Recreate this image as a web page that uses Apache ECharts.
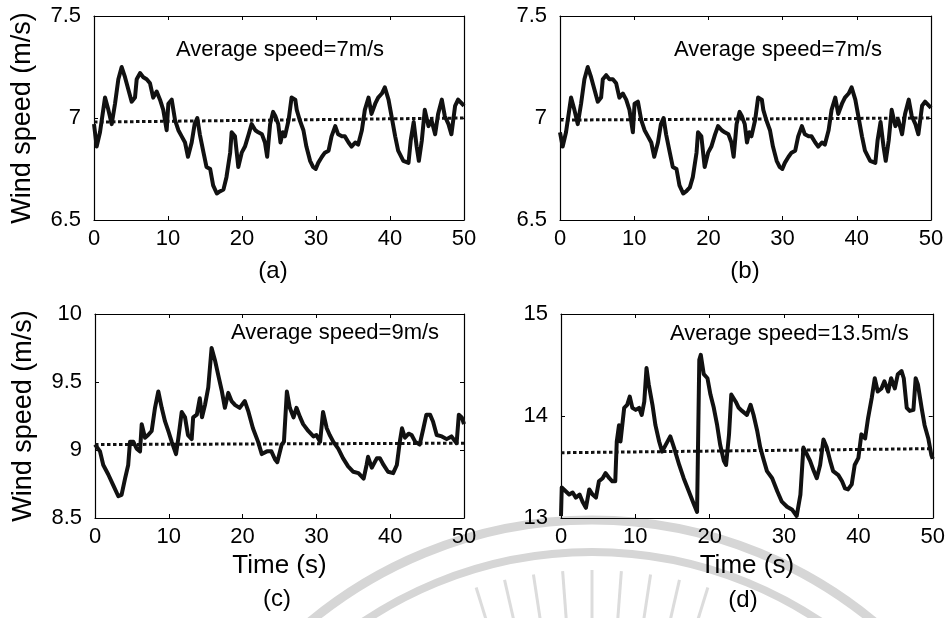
<!DOCTYPE html>
<html>
<head>
<meta charset="utf-8">
<script src="https://cdn.jsdelivr.net/npm/echarts@6/dist/echarts.min.js"></script>
<style>
  html, body { margin: 0; background: #fff; }
  #chart { width: 948px; height: 618px; }
</style>
</head>
<body>
<div id="chart"></div>
<script>
// wind speed records, [time (s), speed (m/s)]
const windA = [[0,6.97],[0.36,6.86],[0.81,6.93],[1.49,7.10],[1.94,7.04],[2.39,6.97],[2.84,7.07],[3.29,7.19],[3.74,7.25],[4.19,7.20],[4.64,7.14],[5.09,7.08],[5.54,7.10],[5.77,7.19],[6.22,7.22],[6.66,7.20],[7.12,7.19],[7.57,7.17],[8.0,7.10],[8.47,7.13],[8.92,7.09],[9.36,7.04],[9.82,6.94],[10.05,7.07],[10.5,7.09],[10.95,6.99],[11.4,6.94],[11.85,6.91],[12.3,6.88],[12.7,6.81],[13.2,6.88],[13.6,6.97],[13.96,7.00],[14.3,6.92],[14.8,6.83],[15.2,6.76],[15.7,6.75],[16.1,6.67],[16.6,6.63],[17.0,6.64],[17.5,6.65],[17.9,6.71],[18.4,6.83],[18.6,6.93],[19.05,6.91],[19.5,6.76],[19.96,6.83],[20.4,6.86],[20.9,6.92],[21.3,6.97],[21.8,6.94],[22.2,6.93],[22.7,6.92],[23.1,6.88],[23.4,6.81],[23.8,6.97],[24.2,7.03],[24.5,7.01],[24.9,6.97],[25.2,6.88],[25.5,6.93],[25.8,6.91],[26.3,6.99],[26.7,7.10],[27.2,7.09],[27.4,7.04],[27.8,6.99],[28.3,6.94],[28.7,6.86],[29.2,6.79],[29.6,6.76],[29.96,6.75],[30.3,6.78],[30.8,6.81],[31.2,6.83],[31.7,6.84],[32.1,6.91],[32.6,6.96],[33.0,6.92],[33.5,6.91],[33.9,6.91],[34.4,6.88],[34.8,6.86],[35.3,6.88],[35.7,6.87],[36.2,6.94],[36.6,7.04],[37.1,7.10],[37.5,7.02],[38.0,7.07],[38.4,7.10],[38.9,7.12],[39.3,7.15],[39.8,7.09],[40.2,7.01],[40.7,6.91],[41.1,6.84],[41.8,6.79],[42.5,6.78],[42.8,6.89],[43.2,6.98],[43.6,6.86],[43.9,6.79],[44.3,6.89],[44.7,7.04],[45.2,6.96],[45.6,6.99],[46.1,6.92],[46.5,7.02],[47.0,7.09],[47.4,7.01],[47.9,6.97],[48.3,6.92],[48.8,7.06],[49.2,7.09],[50,7.06]];

const windB = [[0,6.93],[0.36,6.86],[0.81,6.93],[1.49,7.10],[1.94,7.04],[2.39,6.97],[2.84,7.07],[3.29,7.19],[3.74,7.25],[4.19,7.20],[4.64,7.14],[5.09,7.08],[5.54,7.10],[5.77,7.19],[6.22,7.21],[6.66,7.19],[7.12,7.19],[7.57,7.17],[8.0,7.10],[8.47,7.12],[8.92,7.09],[9.36,7.04],[9.82,6.93],[10.05,7.07],[10.5,7.08],[10.95,6.99],[11.4,6.94],[11.85,6.91],[12.3,6.88],[12.7,6.81],[13.2,6.88],[13.6,6.97],[13.96,7.00],[14.3,6.92],[14.8,6.83],[15.2,6.76],[15.7,6.75],[16.1,6.67],[16.6,6.63],[17.0,6.64],[17.5,6.66],[17.9,6.71],[18.4,6.83],[18.6,6.93],[19.05,6.91],[19.5,6.76],[19.96,6.83],[20.4,6.86],[20.9,6.92],[21.3,6.96],[21.8,6.94],[22.2,6.93],[22.7,6.92],[23.1,6.88],[23.4,6.81],[23.8,6.97],[24.2,7.03],[24.5,7.01],[24.9,6.97],[25.2,6.88],[25.5,6.93],[25.8,6.91],[26.3,6.99],[26.7,7.10],[27.2,7.09],[27.4,7.04],[27.8,6.99],[28.3,6.94],[28.7,6.86],[29.2,6.79],[29.6,6.76],[29.96,6.75],[30.3,6.78],[30.8,6.81],[31.2,6.83],[31.7,6.84],[32.1,6.91],[32.6,6.96],[33.0,6.92],[33.5,6.91],[33.9,6.91],[34.4,6.88],[34.8,6.86],[35.3,6.88],[35.7,6.87],[36.2,6.94],[36.6,7.04],[37.1,7.10],[37.5,7.02],[38.0,7.07],[38.4,7.10],[38.9,7.12],[39.3,7.15],[39.8,7.09],[40.2,7.01],[40.7,6.91],[41.1,6.84],[41.8,6.79],[42.5,6.78],[42.8,6.89],[43.2,6.98],[43.6,6.86],[43.9,6.79],[44.3,6.89],[44.7,7.04],[45.2,6.96],[45.6,6.99],[46.1,6.92],[46.5,7.02],[47.0,7.09],[47.4,7.01],[47.9,6.97],[48.3,6.92],[48.8,7.06],[49.2,7.08],[50,7.05]];

const windC = [[0,9.04],[0.68,8.99],[1.12,8.89],[1.8,8.82],[2.48,8.74],[3.16,8.66],[3.6,8.67],[4.07,8.79],[4.5,8.89],[4.74,9.06],[5.2,9.06],[5.65,9.01],[6.1,8.99],[6.33,9.19],[6.78,9.09],[7.2,9.11],[7.68,9.14],[8.13,9.31],[8.58,9.43],[9.04,9.31],[9.49,9.21],[9.93,9.14],[10.4,9.06],[10.98,8.97],[11.3,9.09],[11.75,9.28],[12.2,9.24],[12.6,9.11],[13.1,9.08],[13.3,9.24],[13.8,9.26],[14.2,9.38],[14.5,9.24],[14.9,9.33],[15.35,9.46],[15.8,9.75],[16.3,9.65],[16.7,9.55],[17.2,9.43],[17.6,9.31],[18.06,9.42],[18.5,9.36],[19.0,9.33],[19.6,9.31],[20.3,9.36],[20.8,9.28],[21.4,9.16],[22.1,9.06],[22.6,8.97],[23.3,8.99],[23.9,8.99],[24.4,8.93],[24.7,8.91],[25.3,9.04],[25.6,9.06],[26.0,9.43],[26.4,9.31],[26.9,9.24],[27.3,9.31],[27.8,9.24],[28.2,9.19],[28.9,9.14],[29.6,9.10],[30.0,9.11],[30.5,9.06],[30.9,9.28],[31.4,9.16],[31.8,9.11],[32.3,9.06],[32.96,9.01],[33.6,8.94],[34.3,8.88],[35.0,8.84],[35.7,8.83],[36.4,8.79],[36.8,8.89],[37.0,8.95],[37.5,8.87],[38.2,8.94],[38.6,8.94],[39.1,8.89],[39.7,8.84],[40.4,8.83],[40.9,8.89],[41.3,9.06],[41.6,9.16],[42.0,9.09],[42.5,9.12],[42.9,9.11],[43.4,9.06],[44.0,9.04],[44.5,9.16],[44.9,9.26],[45.4,9.26],[45.8,9.21],[46.3,9.11],[47.0,9.10],[47.65,9.08],[48.3,9.10],[49.0,9.05],[49.3,9.26],[49.7,9.24],[50,9.19]];

const windD = [[0,13.02],[0.1,13.3],[0.67,13.26],[1.1,13.23],[1.57,13.25],[2.0,13.20],[2.5,13.23],[2.9,13.16],[3.35,13.10],[3.8,13.28],[4.25,13.23],[4.7,13.20],[5.1,13.36],[5.6,13.39],[6.0,13.44],[6.5,13.39],[6.9,13.36],[7.3,13.36],[7.5,13.75],[7.8,13.91],[8.0,13.75],[8.5,14.08],[8.9,14.11],[9.25,14.19],[9.6,14.08],[10.05,14.06],[10.5,14.08],[10.86,14.01],[11.2,14.14],[11.5,14.47],[11.8,14.31],[12.3,14.11],[12.7,13.91],[13.2,13.75],[13.6,13.65],[14.1,13.72],[14.7,13.80],[15.2,13.69],[15.9,13.52],[16.5,13.39],[17.2,13.26],[17.9,13.13],[18.3,13.06],[18.45,13.05],[18.6,14.55],[18.8,14.60],[19.2,14.41],[19.7,14.37],[20.1,14.21],[20.55,14.08],[21.0,13.91],[21.4,13.72],[21.9,13.56],[22.2,13.52],[22.6,13.82],[22.9,14.21],[23.5,14.14],[23.9,14.08],[24.35,14.05],[24.6,14.05],[25.0,14.01],[25.5,14.11],[25.9,14.01],[26.4,13.85],[26.8,13.69],[27.3,13.56],[27.7,13.46],[28.4,13.39],[29.1,13.26],[29.7,13.16],[30.4,13.11],[31.1,13.08],[31.7,13.02],[32.2,13.23],[32.6,13.69],[33.1,13.62],[33.5,13.56],[34.0,13.46],[34.4,13.39],[34.85,13.52],[35.3,13.77],[35.75,13.69],[36.2,13.56],[36.6,13.46],[37.3,13.42],[37.8,13.36],[38.2,13.29],[38.6,13.28],[39.1,13.33],[39.5,13.52],[40.0,13.59],[40.4,13.82],[40.9,13.78],[41.3,13.98],[41.8,14.18],[42.2,14.37],[42.6,14.24],[43.1,14.27],[43.5,14.34],[44.0,14.24],[44.4,14.37],[44.9,14.27],[45.3,14.41],[45.8,14.44],[46.1,14.37],[46.5,14.08],[46.9,14.05],[47.4,14.06],[47.7,14.37],[48.0,14.31],[48.5,14.08],[48.9,13.91],[49.4,13.78],[49.8,13.62],[50,13.58]];

// dotted average lines, value at t=0 and t=50
const avgA = [6.98, 7.0];
const avgB = [6.99, 7.0];
const avgC = [9.04, 9.05];
const avgD = [13.64, 13.68];

const yRanges = [[6.5, 7.5, 0.5], [6.5, 7.5, 0.5], [8.5, 10, 0.5], [13, 15, 1]];
const notes = ["Average speed=7m/s", "Average speed=7m/s", "Average speed=9m/s", "Average speed=13.5m/s"];
const panelLabels = ["(a)", "(b)", "(c)", "(d)"];

const FONT = '"Liberation Sans", Arial, Helvetica, sans-serif';
const chart = echarts.init(document.getElementById("chart"));

const grids = [
  { left: 94, top: 16, width: 370, height: 204 },
  { left: 560, top: 16, width: 371, height: 204 },
  { left: 95, top: 314, width: 369, height: 204 },
  { left: 561, top: 314, width: 373, height: 204 },
];

const tickStyle = { inside: true, length: 4, lineStyle: { color: "#000", width: 1 } };
const lineStyle = { show: true, onZero: false, lineStyle: { color: "#000", width: 1.2 } };

const xAxis = [];
const yAxis = [];
grids.forEach((g, i) => {
  const bottomRow = i >= 2;
  xAxis.push({
    gridIndex: i, type: "value", min: 0, max: 50, interval: 10, position: "bottom",
    axisLine: lineStyle, axisTick: tickStyle, splitLine: { show: false },
    axisLabel: { color: "#000", fontSize: 22, fontFamily: FONT, margin: 8 },
    name: bottomRow ? "Time (s)" : "", nameLocation: "middle", nameGap: 35,
    nameTextStyle: { color: "#000", fontSize: 26, fontFamily: FONT },
  });
  xAxis.push({
    gridIndex: i, type: "value", min: 0, max: 50, interval: 10, position: "top",
    axisLine: lineStyle, axisTick: tickStyle, axisLabel: { show: false }, splitLine: { show: false },
  });
  const [ymin, ymax, step] = yRanges[i];
  yAxis.push({
    gridIndex: i, type: "value", min: ymin, max: ymax, interval: step, position: "left",
    axisLine: lineStyle, axisTick: tickStyle, splitLine: { show: false },
    axisLabel: { color: "#000", fontSize: 22, fontFamily: FONT, margin: 13 },
    name: i % 2 === 0 ? "Wind speed (m/s)" : "", nameLocation: "middle", nameGap: 58,
    nameTextStyle: { color: "#000", fontSize: 27, fontFamily: FONT },
  });
  yAxis.push({
    gridIndex: i, type: "value", min: ymin, max: ymax, interval: step, position: "right",
    axisLine: lineStyle, axisTick: tickStyle, axisLabel: { show: false }, splitLine: { show: false },
  });
});

const records = [windA, windB, windC, windD];
const averages = [avgA, avgB, avgC, avgD];
const series = [];
records.forEach((rec, i) => {
  series.push({
    type: "line", xAxisIndex: 2 * i, yAxisIndex: 2 * i, data: rec,
    showSymbol: false, silent: true, z: 3,
    lineStyle: { color: "#111", width: 4, join: "round" },
  });
  series.push({
    type: "line", xAxisIndex: 2 * i, yAxisIndex: 2 * i,
    data: [[0, averages[i][0]], [50, averages[i][1]]],
    showSymbol: false, silent: true, z: 3,
    lineStyle: { color: "#111", width: 3, type: [3.5, 2.5], cap: "butt" },
  });
});

// faint scanned watermark (top of a round emblem) behind the lower panels
const wmCx = 592, wmCy = 962;
const graphic = [
  { type: "arc", z: -10, silent: true, shape: { cx: wmCx, cy: wmCy, r: 442, startAngle: -Math.PI / 2 - 0.75, endAngle: -Math.PI / 2 + 0.75 },
    style: { stroke: "#d6d6d6", lineWidth: 9, fill: null } },
  { type: "arc", z: -10, silent: true, shape: { cx: wmCx, cy: wmCy, r: 410, startAngle: -Math.PI / 2 - 0.75, endAngle: -Math.PI / 2 + 0.75 },
    style: { stroke: "#d6d6d6", lineWidth: 8, fill: null } },
];
for (let k = -4; k <= 4; k++) {
  const a = -Math.PI / 2 + k * 0.075;
  graphic.push({
    type: "line", z: -10, silent: true,
    shape: { x1: wmCx + 300 * Math.cos(a), y1: wmCy + 300 * Math.sin(a), x2: wmCx + 392 * Math.cos(a), y2: wmCy + 392 * Math.sin(a) },
    style: { stroke: "#dcdcdc", lineWidth: 3 },
  });
}

const notePos = [[176, 50], [674, 50], [231, 333], [670, 334]];
const labelPos = [[273, 271], [745, 271], [277, 599], [743, 600]];
notes.forEach((t, i) => {
  graphic.push({
    type: "text", x: notePos[i][0], y: notePos[i][1], silent: true,
    style: { text: t, fontSize: 22, fontFamily: FONT, fill: "#000", textAlign: "left", textVerticalAlign: "middle" },
  });
  graphic.push({
    type: "text", x: labelPos[i][0], y: labelPos[i][1], silent: true,
    style: { text: panelLabels[i], fontSize: 24, fontFamily: FONT, fill: "#000", textAlign: "center", textVerticalAlign: "middle" },
  });
});

chart.setOption({
  animation: false,
  backgroundColor: "#fff",
  grid: grids,
  xAxis,
  yAxis,
  series,
  graphic,
});
</script>
</body>
</html>
